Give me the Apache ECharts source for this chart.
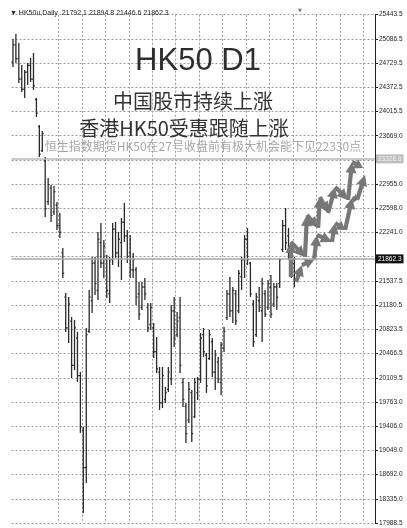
<!DOCTYPE html>
<html><head><meta charset="utf-8">
<script src="https://cdn.jsdelivr.net/npm/echarts@6/dist/echarts.min.js"></script>
<style>html,body{margin:0;padding:0;background:#fff}#c{width:407px;height:528px}</style>
</head><body><div id="c"></div>
<script>
// ---- data (HK50u, Daily) ----
const opens = [24750,25000,24800,24500,24350,24600,24700,24500,24200,23800,
 23450,23300,22700,22900,22550,22650,22350,21950,21300,20850,
 20950,20300,20700,20150,19350,18800,20800,21250,21800,21400,
 22100,21800,21850,21350,21850,22300,21950,22100,22400,22200,
 21950,21700,21700,21350,21150,21450,21150,20900,20850,20500,
 20200,19750,19800,19950,20100,21100,20750,21000,20050,19700,
 19500,19900,19550,19900,20100,20750,20450,20400,20650,20200,
 20350,20050,20550,21000,21350,21100,21350,21100,21600,21850,
 22150,21800,21200,20750,21250,21100,21350,21150,21450,21200,
 21450,21500,22000,22350,22200,21950,21792.1];
const highs = [25088,25161,25029,24707,24633,24736,24809,24883,24223,23827,
 23739,23357,23049,22947,22932,22697,22536,22023,21363,21304,
 21011,20967,20791,20204,19397,20849,21407,21891,21891,22257,
 22389,22140,21920,21891,22389,22404,22257,22463,22683,22287,
 22213,21949,21744,21524,21524,21583,21216,21216,20923,20717,
 20277,20277,19984,20277,21187,21304,21084,21304,20116,19749,
 20057,19940,20116,20131,20776,20849,20482,20820,20703,20527,
 20424,20644,20864,21407,21597,21451,21407,21700,21891,22213,
 22316,21817,21260,21363,21451,21583,21407,21553,21627,21509,
 21509,21876,22433,22609,22316,22037,21894.8];
const lows = [24677,24736,24443,24311,24223,24413,24457,24340,23944,23357,
 23431,22477,22653,22404,22507,22287,22169,21583,20791,20629,
 20116,20233,20057,19309,18136,18576,20776,21069,21333,21260,
 21729,21583,21289,21216,21773,21876,21744,21553,22111,21803,
 21583,21583,21187,20967,21113,21260,20791,20820,20409,20189,
 19647,19676,19749,19911,20013,20571,20717,20189,19691,19162,
 19456,19177,19529,19793,20043,20424,19896,20380,20131,19940,
 20043,19867,20497,20967,21011,20923,20893,21069,21407,21583,
 21773,21304,20571,20717,21084,20644,21011,21113,20996,21157,
 21113,21436,21964,21993,21847,21583,21446.6];
const closes = [25000,24800,24500,24350,24600,24700,24500,24400,24000,23400,
 23700,22600,22950,22500,22850,22350,22250,21650,20850,21200,
 20300,20850,20150,19400,18800,20750,21300,21800,21500,22150,
 21800,22050,21400,21850,22300,21950,22150,22400,22200,21900,
 21700,21850,21300,21050,21450,21350,20850,21150,20500,20250,
 19750,20150,19900,20200,21100,20700,20950,20300,19800,19300,
 19950,19300,20050,20100,20700,20500,20000,20750,20200,20450,
 20100,20600,20800,21350,21100,21400,20950,21650,21850,22150,
 21850,21350,20650,21300,21150,21500,21050,21500,21050,21450,
 21300,21850,22350,22100,21950,21800,21862.3];
const totalSlots = 124; // bars + empty chart-shift space on the right
// y-axis tick labels, bottom to top ('' = hidden behind price tags)
const yTickLabels = ['17988.5','18335.0','18692.0','19049.0','19406.0','19763.0','20109.5',
 '20466.5','20823.5','21180.5','21537.5','','22241.0','22598.0','22955.0','',
 '23669.0','24015.5','24372.5','24729.5','25086.5','25443.5'];
const yMin = 17988.5, yMax = 25443.5, yStep = 355;
// horizontal price lines
const priceLines = [21862.3, 23328.8];
// projected arrow paths (bar index, price)
const upperArrowX = [94.8, 94.8, 99.6, 100.3, 104.1, 104.7, 107.5, 109.9, 114.3, 115.7, 119.4];
const upperArrowY = [21597, 22111, 21891, 22507, 22316, 22771, 22536, 22917, 22727, 23284, 23196];
const lowerArrowX = [96.6, 98.6, 102.7, 103.7, 108.8, 109.9, 113.3, 115.7, 117.4, 120.1];
const lowerArrowY = [21524, 21773, 21847, 22213, 22111, 22389, 22287, 22756, 22727, 23093];

const categories = [];
for (let i = 0; i < totalSlots; i++) categories.push(String(i));
const ohlc = opens.map((o, i) => [i, o, highs[i], lows[i], closes[i]]);
// arrow segments: [xBar1, y1, xBar2, y2, frac1, frac2]
function segs(xs, ys) {
  const out = [];
  for (let i = 0; i < xs.length - 1; i++) {
    const a = Math.floor(xs[i]), b = Math.floor(xs[i + 1]);
    out.push([a, ys[i], b, ys[i + 1], xs[i] - a, xs[i + 1] - b]);
  }
  return out;
}
const arrowSegs = segs(upperArrowX, upperArrowY).concat(segs(lowerArrowX, lowerArrowY));
const last = opens.length - 1;
const fmt = v => v.toFixed(1);

const chart = echarts.init(document.getElementById('c'));
const numFont = 'Liberation Sans';
chart.setOption({
  animation: false,
  backgroundColor: '#fff',
  grid: {left: 11.5, right: 32, top: 14.7, bottom: 5, containLabel: false},
  xAxis: {
    type: 'category', data: categories, boundaryGap: true,
    axisLine: {show: false, onZero: false}, axisTick: {show: false}, axisLabel: {show: false},
    splitLine: {show: true, showMinLine: false, showMaxLine: false,
      interval: (idx) => idx > 0 && idx % 8 === 0,
      lineStyle: {color: '#9a9a9a', type: [2, 2], width: 1}}
  },
  yAxis: {
    type: 'value', position: 'right', min: yMin, max: yMax, interval: yStep, scale: true,
    axisLine: {show: true, onZero: false, lineStyle: {color: '#222', width: 1}},
    axisTick: {show: true, length: 3, lineStyle: {color: '#222'}},
    axisLabel: {color: '#222', fontSize: 6.5, fontFamily: numFont, margin: 4,
      formatter: v => { const k = Math.round((v - yMin) / yStep); return yTickLabels[k] || ''; }},
    splitLine: {show: true, lineStyle: {color: '#9a9a9a', type: [2, 2], width: 1}}
  },
  series: [{
    type: 'custom',
    data: ohlc,
    encode: {x: 0, y: [1, 2, 3, 4]},
    renderItem: function (params, api) {
      const x = api.value(0);
      const o = api.coord([x, api.value(1)]);
      const h = api.coord([x, api.value(2)]);
      const l = api.coord([x, api.value(3)]);
      const c = api.coord([x, api.value(4)]);
      const st = {stroke: '#2a2a2a', lineWidth: 1.3};
      return {type: 'group', children: [
        {type: 'line', shape: {x1: h[0], y1: h[1], x2: l[0], y2: l[1]}, style: st},
        {type: 'line', shape: {x1: o[0] - 1.4, y1: o[1], x2: o[0], y2: o[1]}, style: st},
        {type: 'line', shape: {x1: c[0], y1: c[1], x2: c[0] + 1.4, y2: c[1]}, style: st}
      ]};
    },
    z: 3
  }, {
    type: 'line', data: [], silent: true,
    markLine: {
      silent: true, symbol: ['none', 'none'], animation: false,
      data: [
        {yAxis: priceLines[0], lineStyle: {color: '#a8a8a8', type: 'solid', width: 1.5},
          label: {position: 'end', distance: 1, formatter: fmt(priceLines[0]), backgroundColor: '#111',
            color: '#fff', fontSize: 6.5, fontFamily: numFont, padding: [1, 2]}},
        {yAxis: priceLines[1], lineStyle: {color: '#b8b8b8', type: 'solid', width: 1.5},
          label: {position: 'end', distance: 1, formatter: fmt(priceLines[1]), backgroundColor: '#bdbdbd',
            color: '#f4f4f4', fontSize: 6.5, fontFamily: numFont, padding: [1, 2]}}
      ]
    },
    z: 2
  }, {
    type: 'custom',
    data: arrowSegs,
    encode: {x: [0, 2], y: [1, 3]},
    clip: false,
    renderItem: function (params, api) {
      const band = api.size([1, 0])[0];
      const p1 = api.coord([api.value(0), api.value(1)]);
      const p2 = api.coord([api.value(2), api.value(3)]);
      p1[0] += api.value(4) * band;
      p2[0] += api.value(5) * band;
      const dx = p2[0] - p1[0], dy = p2[1] - p1[1];
      const len = Math.sqrt(dx * dx + dy * dy) || 1;
      const ux = dx / len, uy = dy / len, px = -uy, py = ux;
      const hl = Math.min(11, len * 0.7), hw = 5.5;
      const bx = p2[0] - ux * hl, by = p2[1] - uy * hl;
      const col = '#777';
      return {type: 'group', children: [
        {type: 'line', shape: {x1: p1[0], y1: p1[1], x2: bx + ux, y2: by + uy},
          style: {stroke: col, lineWidth: 4.2}},
        {type: 'polygon', shape: {points: [[p2[0], p2[1]], [bx + px * hw, by + py * hw], [bx - px * hw, by - py * hw]]},
          style: {fill: col}}
      ]};
    },
    z: 4
  }],
  graphic: [
    {type: 'text', left: 10, top: 10, z: 10, style: {
      text: '\u25BC HK50u,Daily  ' + [opens[last], highs[last], lows[last], closes[last]].map(fmt).join(' '),
      fill: '#222', font: '7px "Liberation Sans", "DejaVu Sans"'}},
    {type: 'text', x: 300, y: 11, z: 10, style: {text: '\u25BC', fill: '#777', font: '5px "DejaVu Sans"', align: 'center', verticalAlign: 'middle'}},
    {type: 'text', x: 198, y: 61, z: 10, style: {text: 'HK50 D1', fill: '#2e2e2e',
      font: '31px "Liberation Sans", Arial', align: 'center', verticalAlign: 'middle'}},
    {type: 'text', x: 193, y: 101, z: 10, style: {text: '中国股市持续上涨', fill: '#333',
      font: '20px "Noto Sans CJK SC"', align: 'center', verticalAlign: 'middle'}},
    {type: 'text', x: 184, y: 128, z: 10, style: {text: '香港HK50受惠跟随上涨', fill: '#333',
      font: '20px "Noto Sans CJK SC"', align: 'center', verticalAlign: 'middle'}},
    {type: 'text', x: 203, y: 146, z: 10, style: {text: '恒生指数期货HK50在27号收盘前有极大机会能下见22330点', fill: '#a6a6a6',
      font: '12px "Noto Sans CJK SC"', align: 'center', verticalAlign: 'middle'}}
  ]
});
</script></body></html>
